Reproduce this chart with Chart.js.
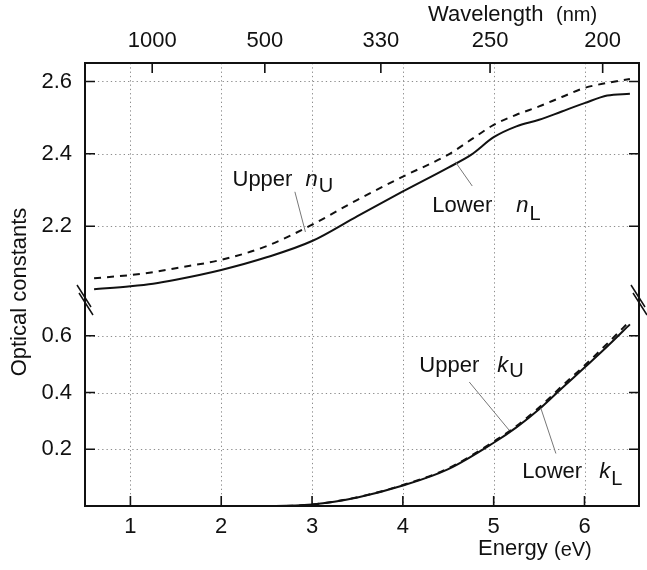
<!DOCTYPE html>
<html>
<head>
<meta charset="utf-8">
<script src="https://cdn.jsdelivr.net/npm/chart.js@4.4.0/dist/chart.umd.min.js"></script>
<style>
  html, body { margin: 0; padding: 0; background: #fff; }
</style>
</head>
<body>
<canvas id="opticalChart" width="647" height="570"></canvas>
<script>
// refractive index n, photon energy in eV
const nEnergy = [0.6, 1.0, 1.25, 1.5, 2.0, 2.5, 3.0, 3.5, 4.0, 4.5, 4.75, 5.0, 5.25, 5.5, 5.75, 6.0, 6.25, 6.5];
const nLower  = [2.026, 2.034, 2.041, 2.052, 2.079, 2.114, 2.159, 2.228, 2.296, 2.362, 2.397, 2.446, 2.476, 2.494, 2.517, 2.540, 2.561, 2.566];
const nUpper  = [2.056, 2.065, 2.073, 2.084, 2.107, 2.145, 2.204, 2.273, 2.337, 2.398, 2.439, 2.480, 2.508, 2.531, 2.557, 2.582, 2.596, 2.607];

// extinction coefficient k
const kEnergy = [2.0, 2.6, 3.0, 3.5, 4.0, 4.5, 5.0, 5.25, 5.5, 5.75, 6.0, 6.25, 6.5];
const kLower  = [0, 0, 0.005, 0.030, 0.072, 0.130, 0.223, 0.277, 0.341, 0.415, 0.488, 0.562, 0.640];
const kUpper  = [0, 0, 0.005, 0.031, 0.074, 0.133, 0.227, 0.282, 0.347, 0.422, 0.495, 0.572, 0.652];

const energyTicks = [1, 2, 3, 4, 5, 6];
const wavelengthTicks = [1000, 500, 330, 250, 200];
const nTicks = [2.2, 2.4, 2.6];
const kTicks = [0.2, 0.4, 0.6];

const HC = 1240; // eV*nm
const FONT = '"Liberation Sans", Arial, sans-serif';
const INK = '#111';

// curve labels: anchor in data units (energy, value) on the given axis
const notes = [
  { axis: 'yN', at: [2.124, 2.310], word: 'Upper', sym: 'n', sub: 'U', gap: 13, drop: 6, leader: [[2.811, 2.295], [2.927, 2.184]] },
  { axis: 'yN', at: [4.324, 2.240], word: 'Lower', sym: 'n', sub: 'L', gap: 24, drop: 8, leader: [[4.577, 2.378], [4.764, 2.311]] },
  { axis: 'yK', at: [4.181, 0.473], word: 'Upper', sym: 'k', sub: 'U', gap: 18, drop: 5, leader: [[4.731, 0.437], [5.171, 0.267]] },
  { axis: 'yK', at: [5.314, 0.097], word: 'Lower', sym: 'k', sub: 'L', gap: 17, drop: 7, leader: [[5.520, 0.344], [5.685, 0.185]] }
];

const pts = (xs, ys) => xs.map((x, i) => ({ x: x, y: ys[i] }));

function curve(label, xs, ys, axis, dashed) {
    return {
        label: label,
        data: pts(xs, ys),
        xAxisID: 'x',
        yAxisID: axis,
        borderColor: INK,
        borderWidth: 2,
        borderDash: dashed ? [7, 6] : [],
        pointRadius: 0,
        fill: false,
        tension: 0.4,
        cubicInterpolationMode: 'monotone'
    };
}

function tickOpts(pad) {
    return { font: { family: FONT, size: 22 }, color: INK, padding: pad, maxRotation: 0, autoSkip: false };
}

const framePlugin = {
    id: 'frame',
    beforeDatasetsDraw(chart) {
        const { ctx, chartArea: a, scales } = chart;
        ctx.save();
        ctx.strokeStyle = '#8c8c8c';
        ctx.lineWidth = 1;
        ctx.setLineDash([1.3, 3]);
        ctx.beginPath();
        energyTicks.forEach(v => {
            const x = Math.round(scales.x.getPixelForValue(v)) + 0.5;
            ctx.moveTo(x, a.top); ctx.lineTo(x, a.bottom);
        });
        nTicks.forEach(v => {
            const y = Math.round(scales.yN.getPixelForValue(v)) + 0.5;
            ctx.moveTo(a.left, y); ctx.lineTo(a.right, y);
        });
        kTicks.forEach(v => {
            const y = Math.round(scales.yK.getPixelForValue(v)) + 0.5;
            ctx.moveTo(a.left, y); ctx.lineTo(a.right, y);
        });
        ctx.stroke();
        ctx.restore();
    },
    afterDatasetsDraw(chart) {
        const { ctx, chartArea: a, scales } = chart;
        const tl = 10;
        ctx.save();
        ctx.strokeStyle = INK;
        ctx.lineWidth = 2;
        ctx.strokeRect(a.left, a.top, a.right - a.left, a.bottom - a.top);

        // inward tick marks
        ctx.lineWidth = 1.6;
        ctx.beginPath();
        energyTicks.forEach(v => {
            const x = scales.x.getPixelForValue(v);
            ctx.moveTo(x, a.bottom); ctx.lineTo(x, a.bottom - tl);
        });
        wavelengthTicks.forEach(w => {
            const x = scales.x2.getPixelForValue(HC / w);
            ctx.moveTo(x, a.top); ctx.lineTo(x, a.top + tl);
        });
        nTicks.forEach(v => {
            const y = scales.yN.getPixelForValue(v);
            ctx.moveTo(a.left, y); ctx.lineTo(a.left + tl, y);
            ctx.moveTo(a.right, y); ctx.lineTo(a.right - tl, y);
        });
        kTicks.forEach(v => {
            const y = scales.yK.getPixelForValue(v);
            ctx.moveTo(a.left, y); ctx.lineTo(a.left + tl, y);
            ctx.moveTo(a.right, y); ctx.lineTo(a.right - tl, y);
        });
        ctx.stroke();

        // axis break marks
        const by = scales.yN.bottom;
        ctx.lineWidth = 1.5;
        ctx.beginPath();
        [a.left, a.right].forEach(bx => {
            ctx.moveTo(bx - 8, by - 15); ctx.lineTo(bx + 6, by + 7);
            ctx.moveTo(bx - 6, by - 7); ctx.lineTo(bx + 8, by + 15);
        });
        ctx.stroke();

        // curve labels and leader lines
        notes.forEach(n => {
            const ys = scales[n.axis];
            ctx.strokeStyle = '#777';
            ctx.lineWidth = 1;
            ctx.beginPath();
            ctx.moveTo(scales.x.getPixelForValue(n.leader[0][0]), ys.getPixelForValue(n.leader[0][1]));
            ctx.lineTo(scales.x.getPixelForValue(n.leader[1][0]), ys.getPixelForValue(n.leader[1][1]));
            ctx.stroke();

            let x = scales.x.getPixelForValue(n.at[0]);
            const y = ys.getPixelForValue(n.at[1]);
            ctx.fillStyle = INK;
            ctx.textBaseline = 'alphabetic';
            ctx.textAlign = 'left';
            ctx.font = '22px ' + FONT;
            ctx.fillText(n.word, x, y);
            x += ctx.measureText(n.word).width + n.gap;
            ctx.font = 'italic 22px ' + FONT;
            ctx.fillText(n.sym, x, y);
            x += ctx.measureText(n.sym).width + 1;
            ctx.font = '20px ' + FONT;
            ctx.fillText(n.sub, x, y + n.drop);
        });

        // axis titles
        ctx.fillStyle = INK;
        ctx.textAlign = 'left';
        ctx.textBaseline = 'alphabetic';
        ctx.font = '22px ' + FONT;
        ctx.fillText('Wavelength', 428, 21);
        ctx.fillText('Energy', 478, 555);
        ctx.font = '20px ' + FONT;
        ctx.fillText('(nm)', 556, 21);
        ctx.fillText('(eV)', 554, 556);

        ctx.translate(26, 292);
        ctx.rotate(-Math.PI / 2);
        ctx.textAlign = 'center';
        ctx.font = '22px ' + FONT;
        ctx.fillText('Optical constants', 0, 0);
        ctx.restore();
    }
};

new Chart(document.getElementById('opticalChart'), {
    type: 'line',
    data: {
        datasets: [
            curve('Lower n', nEnergy, nLower, 'yN', false),
            curve('Upper n', nEnergy, nUpper, 'yN', true),
            curve('Lower k', kEnergy, kLower, 'yK', false),
            curve('Upper k', kEnergy, kUpper, 'yK', true)
        ]
    },
    options: {
        responsive: false,
        animation: false,
        layout: { padding: { left: 0, right: 8, top: 0, bottom: 0 } },
        plugins: { legend: { display: false }, tooltip: { enabled: false } },
        scales: {
            x: {
                type: 'linear', position: 'bottom', min: 0.5, max: 6.6,
                grid: { display: false, drawTicks: false }, border: { display: false },
                ticks: tickOpts(8),
                afterBuildTicks: s => { s.ticks = energyTicks.map(v => ({ value: v })); },
                afterFit: s => { s.height = 64; }
            },
            x2: {
                type: 'linear', position: 'top', min: 0.5, max: 6.6,
                grid: { display: false, drawTicks: false }, border: { display: false },
                ticks: Object.assign(tickOpts(9), { callback: (v, i) => wavelengthTicks[i] }),
                afterBuildTicks: s => { s.ticks = wavelengthTicks.map(w => ({ value: HC / w })); },
                afterFit: s => { s.height = 63; }
            },
            yK: {
                type: 'linear', position: 'left', stack: 'optical', stackWeight: 206, weight: 0,
                min: 0, max: 0.726,
                grid: { display: false, drawTicks: false }, border: { display: false },
                ticks: Object.assign(tickOpts(13), { callback: v => v.toFixed(1) }),
                afterBuildTicks: s => { s.ticks = kTicks.map(v => ({ value: v })); },
                afterFit: s => { s.width = 85; }
            },
            yN: {
                type: 'linear', position: 'left', stack: 'optical', stackWeight: 237, weight: 1,
                min: 1.996, max: 2.651,
                grid: { display: false, drawTicks: false }, border: { display: false },
                ticks: Object.assign(tickOpts(13), { callback: v => v.toFixed(1) }),
                afterBuildTicks: s => { s.ticks = nTicks.map(v => ({ value: v })); },
                afterFit: s => { s.width = 85; }
            }
        }
    },
    plugins: [framePlugin]
});
</script>
</body>
</html>
